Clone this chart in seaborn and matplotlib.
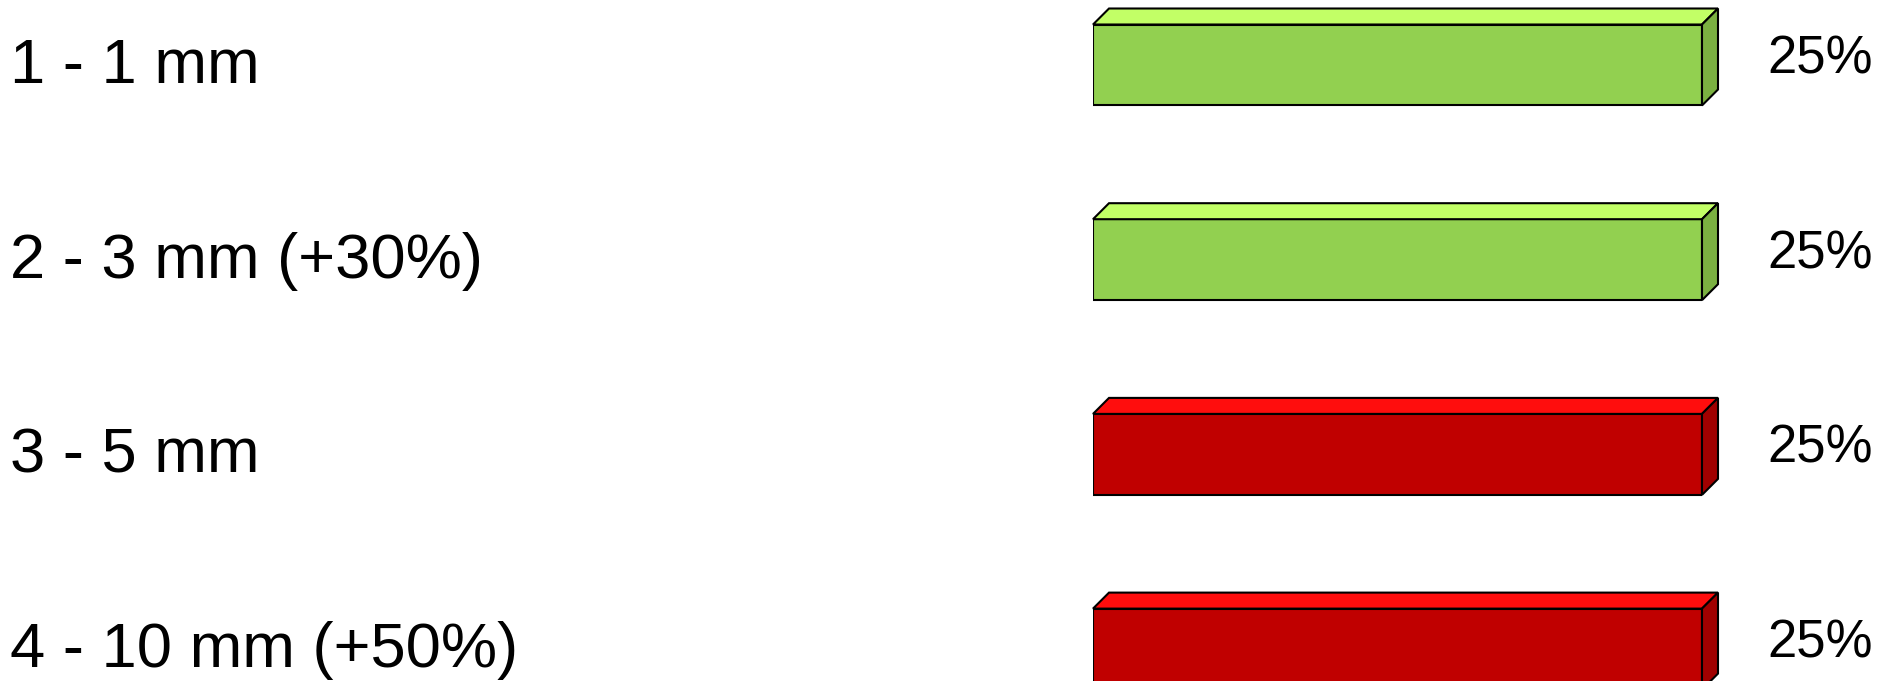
import numpy as np
import pandas as pd
import matplotlib
matplotlib.use('Agg')
import matplotlib.pyplot as plt
import seaborn as sns
from matplotlib.patches import Polygon
from matplotlib.transforms import blended_transform_factory

# Chart data
categories = ['1 - 1 mm', '2 - 3 mm (+30%)', '3 - 5 mm', '4 - 10 mm (+50%)']
shares = [25, 25, 25, 25]
share_labels = ['25%', '25%', '25%', '25%']

front_cols = ['#92D050', '#92D050', '#C00000', '#C00000']
top_cols = ['#C2FF66', '#C2FF66', '#FF0D0D', '#FF0D0D']
side_cols = ['#7BB141', '#7BB141', '#A00000', '#A00000']

df = pd.DataFrame({'category': categories, 'share': shares})

sns.set_style('white')
plt.rcParams['font.family'] = ['Liberation Sans', 'DejaVu Sans']

W, H = 1896, 681
fig = plt.figure(figsize=(W / 100, H / 100), dpi=100)
# axes spans the front faces of the bars horizontally, whole height vertically
ax = fig.add_axes([1093 / W, 0, (1702 - 1093) / W, 1])

sns.barplot(data=df, x='share', y='category', hue='category', orient='h',
            palette=front_cols, saturation=1, edgecolor='black', linewidth=1.5,
            width=0.416, legend=False, ax=ax)

step = 194.7  # pixels between bar centres
first = 65.0  # pixel centre of first bar from top
ax.set_xlim(0, 25)
ax.set_ylim((H - first) / step, -first / step)
ax.axis('off')

# pixel -> data unit conversions
px_x = 25 / (1702 - 1093)
px_y = (H / step) / H
ddx, ddy = 16 * px_x, 16 * px_y

for i, bar in enumerate(ax.patches):
    x0 = bar.get_x()
    x1 = x0 + bar.get_width()
    yt = bar.get_y()
    yb = yt + bar.get_height()
    top = Polygon([(x0, yt), (x1, yt), (x1 + ddx, yt - ddy), (x0 + ddx, yt - ddy)],
                  closed=True, facecolor=top_cols[i], edgecolor='black',
                  linewidth=1.5, clip_on=False, zorder=3)
    side = Polygon([(x1, yt), (x1 + ddx, yt - ddy), (x1 + ddx, yb - ddy), (x1, yb)],
                   closed=True, facecolor=side_cols[i], edgecolor='black',
                   linewidth=1.5, clip_on=False, zorder=3)
    ax.add_patch(top)
    ax.add_patch(side)

trans = blended_transform_factory(fig.transFigure, ax.transData)
for i, (cat, lab) in enumerate(zip(categories, share_labels)):
    ax.text(0.0055, i + 18 * px_y, cat, transform=trans, ha='left',
            va='baseline', fontsize=45.5, color='black', clip_on=False)
    ax.text(1767 / W, i + 8.5 * px_y, lab, transform=trans, ha='left',
            va='baseline', fontsize=38, color='black', clip_on=False)

fig.savefig('out.png', dpi=100, facecolor='white')
